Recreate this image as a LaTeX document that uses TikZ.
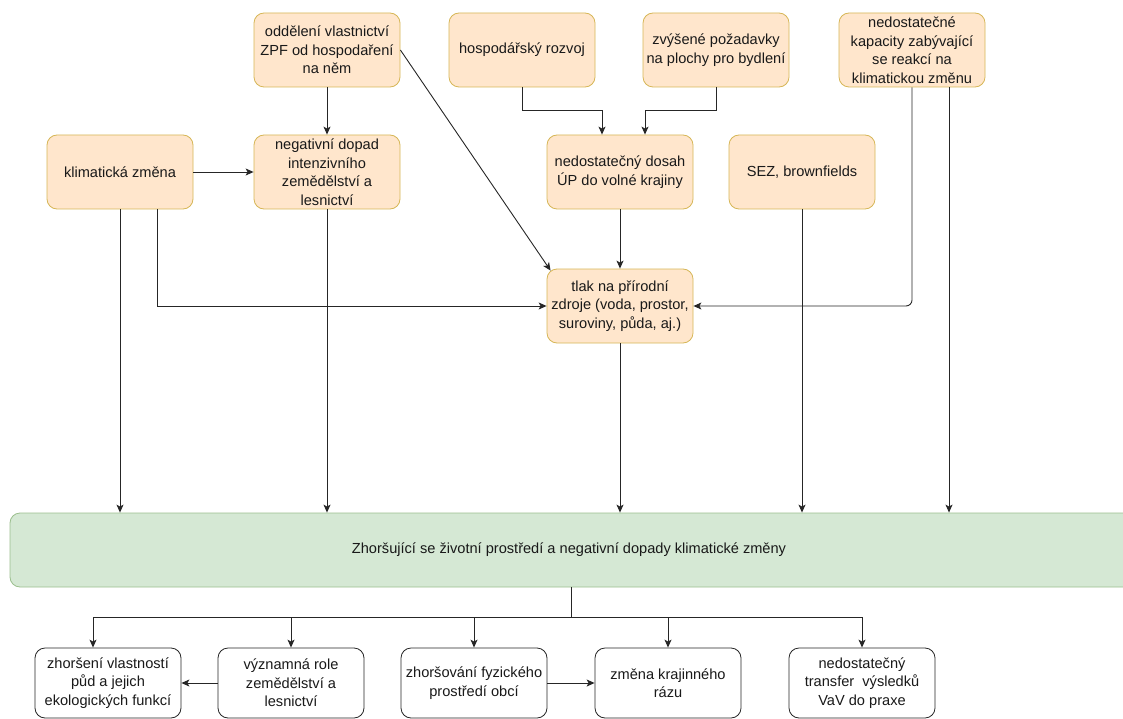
\documentclass[tikz,border=0pt]{standalone}
\usepackage{fontspec}
\setmainfont{Liberation Sans}
\usetikzlibrary{arrows.meta,calc}
\definecolor{orfill}{HTML}{FFE6CC}
\definecolor{ordraw}{HTML}{D6B656}
\definecolor{grfill}{HTML}{D5E8D4}
\definecolor{grdraw}{HTML}{9CBF8E}
\begin{document}
\begin{tikzpicture}[x=1pt,y=-1pt,
  box/.style={rounded corners=10pt, minimum width=146pt, minimum height=74pt, align=center, inner sep=0pt, font=\fontsize{14.6}{18.5}\selectfont, line width=0.8pt, text=black!90},
  obox/.style={box, fill=orfill, draw=ordraw},
  wbox/.style={box, fill=white, draw=black!85, minimum height=70pt},
  arr/.style={-{Stealth[length=8pt,width=7pt,inset=2pt]}, line width=0.9pt, draw=black!85},
  ln/.style={line width=0.9pt, draw=black!85}]
\useasboundingbox (0,0) rectangle (1123,719);

% top row
\node[obox] (A) at (327,50) {oddělení vlastnictví\\ZPF od hospodaření\\na něm};
\node[obox] (B) at (522,50) {hospodářský rozvoj};
\node[obox] (C) at (716,50) {zvýšené požadavky\\na plochy pro bydlení};
\node[obox] (D) at (912,50) {nedostatečné\\kapacity zabývající\\se reakcí na\\klimatickou změnu};
% middle row
\node[obox] (E) at (120,172) {klimatická změna};
\node[obox] (F) at (327,172) {negativní dopad\\intenzivního\\zemědělství a\\lesnictví};
\node[obox] (G) at (620,172) {nedostatečný dosah\\ÚP do volné krajiny};
\node[obox] (H) at (802,172) {SEZ, brownfields};
\node[obox] (I) at (620,306) {tlak na přírodní\\zdroje (voda, prostor,\\suroviny, půda, aj.)};

% green band
\node[draw=grdraw, fill=grfill, rounded corners=10pt, minimum width=1132pt, minimum height=74pt, line width=0.8pt, inner sep=0pt] (Z) at (576,550) {};
\node[font=\fontsize{14.6}{18.5}\selectfont, text=black!90] (Zt) at (569,550) {Zhoršující se životní prostředí a negativní dopady klimatické změny};

% bottom row
\node[wbox] (J) at (108,683) {zhoršení vlastností\\půd a jejich\\ekologických funkcí};
\node[wbox] (K) at (291,683) {významná role\\zemědělství a\\lesnictví};
\node[wbox] (L) at (474,683) {zhoršování fyzického\\prostředí obcí};
\node[wbox] (M) at (668,683) {změna krajinného\\rázu};
\node[wbox] (N) at (862,683) {nedostatečný\\transfer\ \ výsledků\\VaV do praxe};

% connectors top
\draw[arr] (A) -- (F);
\draw[arr] (E) -- (F);
\draw[arr] (A.east) -- ([xshift=4pt,yshift=-2pt]I.north west);
\draw[arr] (B.south) -- ++(0,23) -| ([xshift=-18pt]G.north);
\draw[arr] (C.south) -- ++(0,23) -| ([xshift=25pt]G.north);
\draw[arr] (G) -- (I);
\draw[arr] ([xshift=37pt]E.south) |- (I.west);
\draw[arr, rounded corners=6pt] (D.south) |- (I.east);

% connectors to green band
\draw[arr] (E.south) -- (E.south |- Z.north);
\draw[arr] (F.south) -- (F.south |- Z.north);
\draw[arr] (I.south) -- (I.south |- Z.north);
\draw[arr] (H.south) -- (H.south |- Z.north);
\draw[arr] ([xshift=37pt]D.south) coordinate (d2) -- (d2 |- Z.north);

% green band to bottom row
\draw[ln] ([xshift=-5pt]Z.south) -- ++(0,30) coordinate (hub);
\draw[arr] (hub) -| ([xshift=-15pt]J.north);
\draw[arr] (hub) -| (K.north);
\draw[arr] (hub) -| (L.north);
\draw[arr] (hub) -| (M.north);
\draw[arr] (hub) -| (N.north);
\draw[arr] (K) -- (J);
\draw[arr] (L) -- (M);
\end{tikzpicture}
\end{document}
